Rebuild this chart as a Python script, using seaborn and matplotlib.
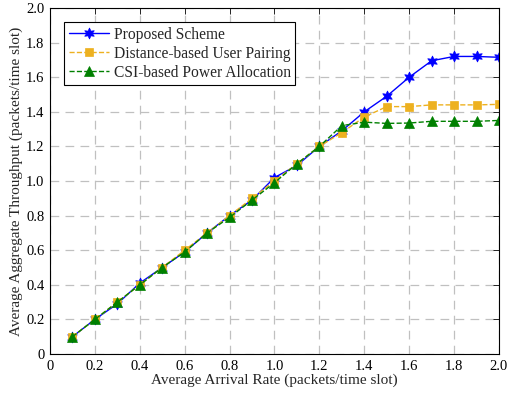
import matplotlib
matplotlib.use("Agg")
import matplotlib.pyplot as plt
import seaborn as sb
import pandas as pd

arrival_rate = [0.1, 0.2, 0.3, 0.4, 0.5, 0.6, 0.7, 0.8, 0.9, 1.0,
                1.1, 1.2, 1.3, 1.4, 1.5, 1.6, 1.7, 1.8, 1.9, 2.0]
proposed = [0.10, 0.20, 0.29, 0.41, 0.50, 0.59, 0.70, 0.80, 0.89, 1.02,
            1.09, 1.20, 1.29, 1.40, 1.49, 1.60, 1.695, 1.72, 1.72, 1.715]
distance_pairing = [0.10, 0.20, 0.30, 0.40, 0.50, 0.60, 0.70, 0.80, 0.90, 1.00,
                    1.10, 1.20, 1.28, 1.37, 1.43, 1.43, 1.44, 1.44, 1.44, 1.443]
csi_power = [0.10, 0.20, 0.30, 0.40, 0.50, 0.59, 0.70, 0.79, 0.89, 0.99,
             1.10, 1.20, 1.32, 1.34, 1.333, 1.335, 1.345, 1.345, 1.345, 1.35]
series_names = ["Proposed Scheme", "Distance-based User Pairing",
                "CSI-based Power Allocation"]

sb.set_style("white")
plt.rcParams["font.family"] = ["Liberation Serif", "DejaVu Serif"]

fig = plt.figure(figsize=(5.1, 3.93), dpi=100)
ax = fig.add_axes([50 / 510, 1 - 354 / 393, 449 / 510, 346 / 393])

styles = [
    dict(color="#0000FF", marker=(6, 1, 0), linestyle="-", markersize=8),
    dict(color="#EDB120", marker="s", linestyle="--", markersize=6),
    dict(color="#008000", marker="^", linestyle="--", markersize=7),
]
for name, values, st in zip(series_names, [proposed, distance_pairing, csi_power], styles):
    df = pd.DataFrame({"x": arrival_rate, "y": values})
    sb.lineplot(data=df, x="x", y="y", ax=ax, label=name, linewidth=1.0,
                markeredgewidth=0.5, markeredgecolor=st["color"], **st)

xticks = [0, 0.2, 0.4, 0.6, 0.8, 1.0, 1.2, 1.4, 1.6, 1.8, 2.0]
xlabels = ["0", "0.2", "0.4", "0.6", "0.8", "1.0", "1.2", "1.4", "1.6", "1.8", "2.0"]
ax.set_xlim(0, 2.0)
ax.set_ylim(0, 2.0)
ax.set_xticks(xticks)
ax.set_xticklabels(xlabels)
ax.set_yticks(xticks)
ax.set_yticklabels(xlabels)
ax.tick_params(direction="in", top=True, right=True, length=4, width=0.6,
               labelsize=10.5, colors="black", pad=4)
ax.grid(True, linestyle=(0, (7, 5)), color="#c0c0c0", linewidth=0.9)
for s in ax.spines.values():
    s.set_color("black")
    s.set_linewidth(0.8)

ax.set_xlabel("Average Arrival Rate (packets/time slot)", fontsize=11, labelpad=1)
ax.set_ylabel("Average Aggregate Throughput (packets/time slot)", fontsize=11, labelpad=2)

leg = ax.legend(loc="upper left", bbox_to_anchor=(0.031, 0.96), fontsize=11.2,
                frameon=True, fancybox=False, edgecolor="black", framealpha=1,
                handlelength=2.6, borderpad=0.3, labelspacing=0.2,
                handletextpad=0.3, borderaxespad=0)
leg.get_frame().set_linewidth(0.8)

fig.savefig("out.png", dpi=100)
